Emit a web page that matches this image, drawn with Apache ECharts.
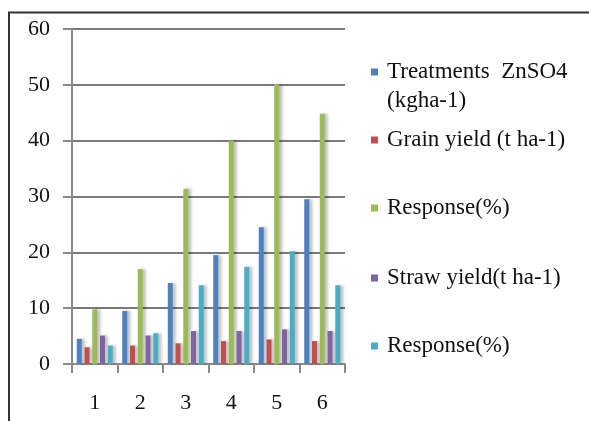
<!DOCTYPE html>
<html><head><meta charset="utf-8">
<script src="https://cdn.jsdelivr.net/npm/echarts@6/dist/echarts.min.js"></script>
<style>html,body{margin:0;padding:0;background:#fff}#c{width:589px;height:421px}</style>
</head><body><div id="c"></div>
<script>
var categories = ['1','2','3','4','5','6'];
var seriesNames = ['Treatments ZnSO4 (kgha-1)','Grain yield (t ha-1)','Response(%)','Straw yield(t ha-1)','Response(%) '];
var treatments = [4.5, 9.5, 14.5, 19.5, 24.5, 29.5];
var grainYield = [3.0, 3.3, 3.7, 4.1, 4.4, 4.1];
var grainResponse = [9.8, 17.0, 31.4, 40.0, 50.1, 44.8];
var strawYield = [5.1, 5.1, 5.9, 5.9, 6.2, 5.9];
var strawResponse = [3.3, 5.5, 14.1, 17.4, 20.2, 14.1];
var yTicks = [0, 10, 20, 30, 40, 50, 60];

var colors = ['#4F81BD','#C0504D','#9BBB59','#8064A2','#4BACC6'];
var values = [treatments, grainYield, grainResponse, strawYield, strawResponse];
var serif = '"Liberation Serif","DejaVu Serif",serif';

var series = values.map(function(v, i){
  return {
    name: seriesNames[i], type: 'bar', data: v,
    barWidth: 5, barGap: '55%',
    itemStyle: {color: colors[i], shadowColor: 'rgba(0,0,0,0.25)', shadowBlur: 3, shadowOffsetX: 3, shadowOffsetY: 0}
  };
});

var legendCenters = [72, 140, 208, 278, 346];
var legends = seriesNames.map(function(n, i){
  var first = i === 0;
  return {
    orient: 'vertical', left: 371, top: first ? legendCenters[0] - 43.5 : legendCenters[i] - 12,
    padding: 0, itemWidth: 7, itemHeight: 7, itemGap: 0,
    data: [{name: n, icon: 'rect'}],
    formatter: first ? function(){ return '\nTreatments  ZnSO4\n(kgha-1)'; } : undefined,
    textStyle: {fontFamily: serif, fontSize: 23, color: '#111', lineHeight: first ? 29 : 24, padding: [0,0,0,4]},
    selectedMode: false
  };
});

var chart = echarts.init(document.getElementById('c'), null, {renderer: 'canvas'});
chart.setOption({
  animation: false,
  color: colors,
  grid: {left: 72, right: 244, top: 29, bottom: 57, containLabel: false},
  legend: legends,
  xAxis: {
    type: 'category', data: categories,
    axisLine: {lineStyle: {color: '#8a8a8a', width: 2}},
    axisTick: {show: true, length: 9, lineStyle: {color: '#8a8a8a', width: 2}},
    axisLabel: {fontFamily: serif, fontSize: 22, color: '#111', margin: 28}
  },
  yAxis: {
    type: 'value', min: 0, max: 60, interval: 10,
    axisLine: {show: true, lineStyle: {color: '#8a8a8a', width: 2}},
    axisTick: {show: true, length: 9, lineStyle: {color: '#8a8a8a', width: 2}},
    splitLine: {lineStyle: {color: '#7a7a7a', width: 2}},
    axisLabel: {fontFamily: serif, fontSize: 22, color: '#111', margin: 22,
      formatter: function(v){ return yTicks.indexOf(v) >= 0 ? String(v) : ''; }}
  },
  series: series,
  graphic: [
    {type: 'line', shape: {x1: 8, y1: 12.5, x2: 589, y2: 12.5}, style: {stroke: '#333', lineWidth: 2}},
    {type: 'line', shape: {x1: 9, y1: 12, x2: 9, y2: 421}, style: {stroke: '#333', lineWidth: 2}}
  ]
});
</script></body></html>
